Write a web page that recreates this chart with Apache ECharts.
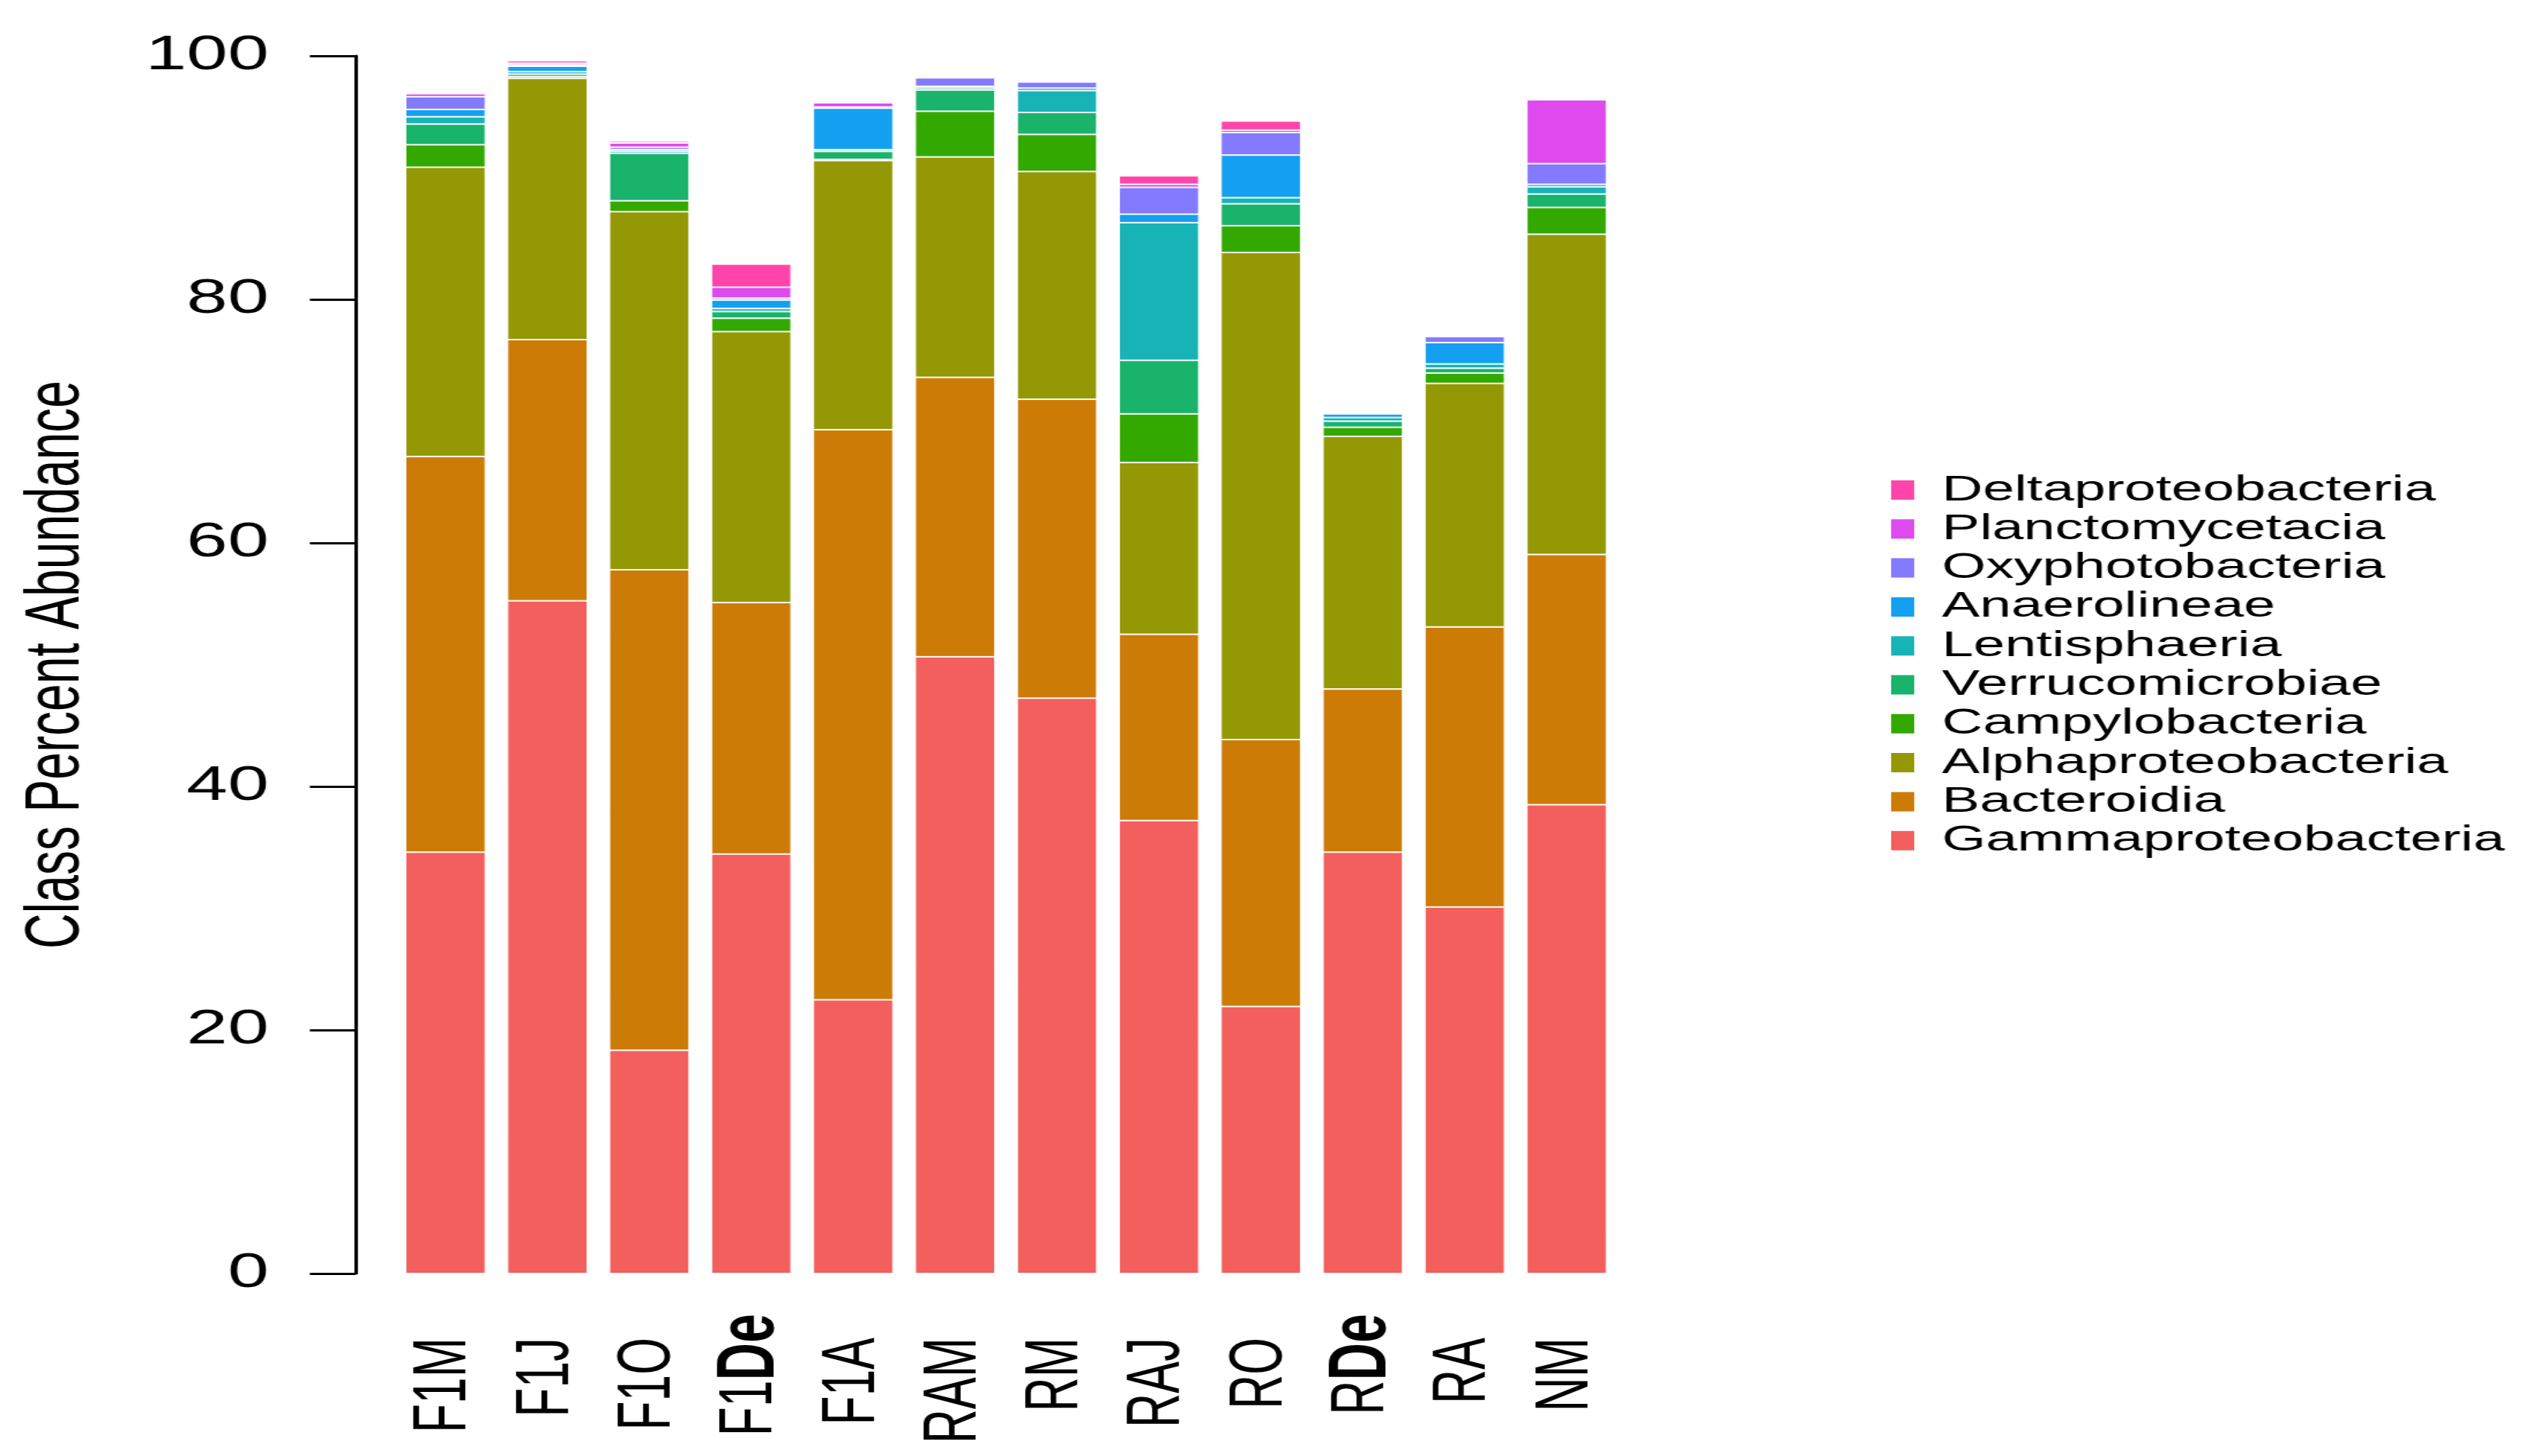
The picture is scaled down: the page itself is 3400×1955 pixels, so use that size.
<!DOCTYPE html>
<html>
<head>
<meta charset="utf-8">
<script src="https://cdn.jsdelivr.net/npm/echarts@6/dist/echarts.min.js"></script>
<style>
html,body{margin:0;padding:0;background:#ffffff;overflow:hidden;}
#wrap{width:3400px;height:1955px;overflow:hidden;}
#chart{width:2194px;height:1955px;transform:scaleX(1.54968);transform-origin:0 0;}
</style>
</head>
<body>
<div id="wrap"><div id="chart"></div></div>
<script>
// ---- data (percent abundance per class, stacked bottom -> top) ----
const categories = ['F1M','F1J','F1O','F1De','F1A','RAM','RM','RAJ','RO','RDe','RA','NM'];
const yTicks = [0, 20, 40, 60, 80, 100];

const gammaproteobacteria = [34.6, 55.25, 18.33, 34.45, 22.48, 50.65, 47.25, 37.2, 21.93, 34.6, 30.1, 38.5];
const bacteroidia         = [32.5, 21.45, 39.47, 20.65, 46.82, 22.95, 24.55, 15.3, 21.92, 13.4, 23.0, 20.55];
const alphaproteobacteria = [23.75, 21.45, 29.4, 22.25, 22.1, 18.1, 18.7, 14.1, 40.0, 20.75, 20.0, 26.3];
const campylobacteria     = [1.85, 0.15, 0.9, 1.1, 0.1, 3.75, 3.05, 4.0, 2.2, 0.75, 0.85, 2.2];
const verrucomicrobiae    = [1.7, 0.2, 3.9, 0.55, 0.65, 1.75, 1.8, 4.4, 1.8, 0.5, 0.4, 1.1];
const lentisphaeria       = [0.6, 0.2, 0.15, 0.25, 0.15, 0.15, 1.8, 11.3, 0.5, 0.3, 0.35, 0.6];
const anaerolineae        = [0.6, 0.45, 0.15, 0.7, 3.4, 0.15, 0.2, 0.7, 3.5, 0.3, 1.75, 0.2];
const oxyphotobacteria    = [1.05, 0.1, 0.2, 0.15, 0.1, 0.7, 0.5, 2.2, 1.85, 0.05, 0.5, 1.7];
const planctomycetacia    = [0.25, 0.15, 0.35, 0.9, 0.35, 0.1, 0.1, 0.25, 0.2, 0, 0.05, 5.25];
const deltaproteobacteria = [0, 0.2, 0.15, 1.9, 0.1, 0, 0, 0.7, 0.75, 0, 0, 0];

const seriesNames  = ['Gammaproteobacteria','Bacteroidia','Alphaproteobacteria','Campylobacteria','Verrucomicrobiae','Lentisphaeria','Anaerolineae','Oxyphotobacteria','Planctomycetacia','Deltaproteobacteria'];
const seriesValues = [gammaproteobacteria, bacteroidia, alphaproteobacteria, campylobacteria, verrucomicrobiae, lentisphaeria, anaerolineae, oxyphotobacteria, planctomycetacia, deltaproteobacteria];
const seriesColors = ['#F25F5C','#CD7B07','#939804','#33A900','#19B36B','#18B3B7','#14A0F0','#837AFE','#DE4AEE','#FF45AA'];

const FONT = '"Liberation Sans", Arial, Helvetica, sans-serif';

function isDe(v) { return v.indexOf('De') > 0; }
const richStyles = {
  n: { fontSize: 64, fontFamily: FONT, color: '#000' },
  d: { fontSize: 70, fontFamily: FONT, fontWeight: 'bold', color: '#000' }
};

const chart = echarts.init(document.getElementById('chart'));
const option = {
  animation: false,
  backgroundColor: '#ffffff',
  grid: { left: 341.7, width: 1059.4, top: 75, bottom: 245, containLabel: false },
  legend: {
    data: seriesNames.slice().reverse(),
    orient: 'vertical',
    left: 1636,
    top: 632,
    padding: 0,
    itemGap: 0.3,
    itemWidth: 22,
    itemHeight: 28,
    icon: 'rect',
    selectedMode: false,
    textStyle: { fontFamily: FONT, fontSize: 49, color: '#000', lineHeight: 52, padding: [0, 0, 0, 18] }
  },
  xAxis: [
    {
      type: 'category',
      data: categories,
      axisLine: { show: false },
      axisTick: { show: false },
      axisLabel: {
        rotate: 90,
        margin: 86,
        interval: 0,
        color: '#000',
        fontFamily: FONT,
        formatter: function (v) { return isDe(v) ? '' : '{n|' + v + '}'; },
        rich: richStyles
      }
    },
    {
      type: 'category',
      data: categories,
      position: 'bottom',
      axisLine: { show: false },
      axisTick: { show: false },
      axisLabel: {
        rotate: 90,
        margin: 54,
        interval: 0,
        color: '#000',
        fontFamily: FONT,
        formatter: function (v) {
          if (!isDe(v)) return '';
          const i = v.indexOf('De');
          return '{n|' + v.slice(0, i) + '}{d|' + v.slice(i) + '}';
        },
        rich: richStyles
      }
    }
  ],
  yAxis: {
    type: 'value',
    min: yTicks[0],
    max: yTicks[yTicks.length - 1],
    interval: yTicks[1] - yTicks[0],
    offset: 33.9,
    name: 'Class Percent Abundance',
    nameLocation: 'middle',
    nameGap: 225,
    nameTextStyle: { fontFamily: FONT, fontSize: 66, color: '#000' },
    axisLine: { show: true, lineStyle: { color: '#000', width: 3 } },
    axisTick: { show: true, length: 39.4, lineStyle: { color: '#000', width: 3 } },
    axisLabel: { margin: 75, fontFamily: FONT, fontSize: 64, color: '#000' },
    splitLine: { show: false }
  },
  series: seriesNames.map(function (name, idx) {
    return {
      name: name,
      type: 'bar',
      stack: 'total',
      xAxisIndex: 0,
      barWidth: 69.7,
      data: seriesValues[idx],
      itemStyle: { color: seriesColors[idx], borderColor: '#ffffff', borderWidth: 1 },
      emphasis: { disabled: true }
    };
  })
};
chart.setOption(option);
</script>
</body>
</html>
